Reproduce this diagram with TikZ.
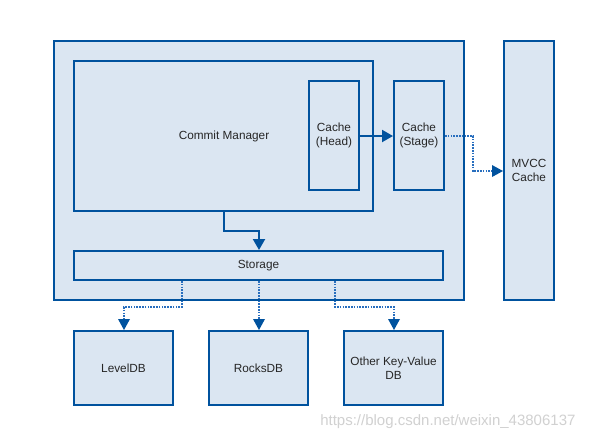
\documentclass[tikz,border=0pt]{standalone}
\usepackage{fontspec}
\setmainfont{Liberation Sans}
\usetikzlibrary{arrows.meta}
\definecolor{bstroke}{RGB}{0,82,158}
\definecolor{bfill}{RGB}{219,230,242}
\definecolor{dotc}{RGB}{40,110,190}
\begin{document}
\begin{tikzpicture}[x=1pt,y=-1pt,
  box/.style={draw=bstroke,fill=bfill,line width=2pt,inner sep=0pt,font=\fontsize{11.8}{14}\selectfont,text=black!85,align=center},
  solidarrow/.style={draw=bstroke,line width=2pt,-{Triangle[width=12pt,length=11pt]}},
  dotarrow/.style={draw=dotc,line width=2pt,dash pattern=on 1.6pt off 1.2pt,-{Triangle[width=12pt,length=11pt,fill=bstroke,line width=0pt]}}]
\useasboundingbox (0,0) rectangle (615,440);
\fill[white] (0,0) rectangle (615,440);
\node[box,minimum width=410pt,minimum height=259pt] (outer) at (259,170.5) {};
\node[box,minimum width=299pt,minimum height=150pt] (cm) at (223.5,136) {};
\node[font=\fontsize{11.8}{14}\selectfont,text=black!85] (cmlabel) at (224,136) {Commit Manager};
\node[box,minimum width=50pt,minimum height=109pt] (head) at (334,135.5) {Cache\\(Head)};
\node[box,minimum width=50pt,minimum height=109pt] (stage) at (419,135.5) {Cache\\(Stage)};
\node[box,minimum width=50pt,minimum height=259pt] (mvcc) at (529,170.5) {MVCC\\Cache};
\node[box,minimum width=369pt,minimum height=29pt] (storage) at (258.5,265.5) {Storage};
\node[box,minimum width=99pt,minimum height=74pt] (level) at (123.5,368) {LevelDB};
\node[box,minimum width=99pt,minimum height=74pt] (rocks) at (258.5,368) {RocksDB};
\node[box,minimum width=99pt,minimum height=74pt] (other) at (393.5,368) {Other Key-Value\\DB};
\node[text=black!18,font=\fontsize{15}{17}\selectfont,anchor=east] (wm) at (579,422) {https://blog.csdn.net/weixin\_43806137};
\draw[solidarrow] (head.east |- 0,136) -- (stage.west |- 0,136);
\draw[dotarrow] (stage.east |- 0,136) -- (473,136) -- (473,171) -- (mvcc.west |- 0,171);
\draw[solidarrow] (224,211) -- (224,231) -- (259,231) -- (storage.north -| 259,0);
\draw[dotarrow] (storage.south -| 182,0) -- (182,307) -- (124,307) -- (level.north -| 124,0);
\draw[dotarrow] (storage.south -| 259,0) -- (rocks.north -| 259,0);
\draw[dotarrow] (storage.south -| 335,0) -- (335,307) -- (394,307) -- (other.north -| 394,0);
\end{tikzpicture}
\end{document}
